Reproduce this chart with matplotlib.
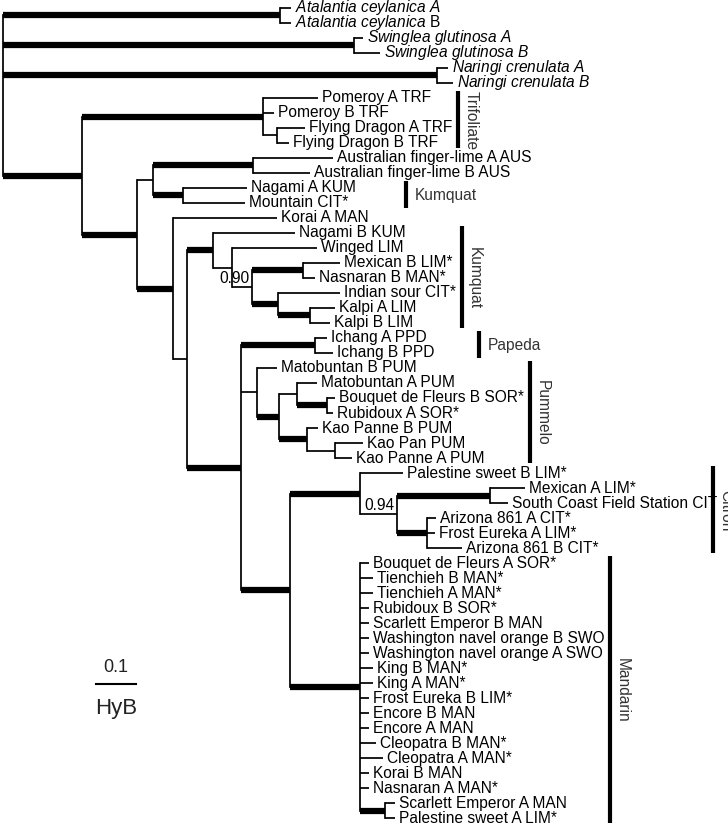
import matplotlib
matplotlib.use('Agg')
import matplotlib.pyplot as plt

plt.rcParams['font.family'] = ['Liberation Sans', 'DejaVu Sans']
plt.rcParams['mathtext.fontset'] = 'custom'
plt.rcParams['mathtext.rm'] = 'Liberation Sans'
plt.rcParams['mathtext.it'] = 'Liberation Sans:italic'

# tree edges: (node, parent, branch length [subst./site], thick = high posterior)
# children are listed top to bottom
outgroups = [
    ('root', None, 0.0, False),
    ('atal', 'root', 0.6925, True),
    ('$\\mathit{Atalantia\\ ceylanica\\ A}$', 'atal', 0.0275, False),
    ('$\\mathit{Atalantia\\ ceylanica}$ B', 'atal', 0.0275, False),
    ('swin', 'root', 0.8775, True),
    ('$\\mathit{Swinglea\\ glutinosa\\ A}$', 'swin', 0.0225, False),
    ('$\\mathit{Swinglea\\ glutinosa\\ B}$', 'swin', 0.065, False),
    ('nari', 'root', 1.085, True),
    ('$\\mathit{Naringi\\ crenulata\\ A}$', 'nari', 0.0275, False),
    ('$\\mathit{Naringi\\ crenulata\\ B}$', 'nari', 0.04, False),
    ('citrus', 'root', 0.1975, True),
]

upper_clades = [
    ('trif', 'citrus', 0.4525, True),
    ('Pomeroy A TRF', 'trif', 0.1375, False),
    ('Pomeroy B TRF', 'trif', 0.0275, False),
    ('fd', 'trif', 0.035, False),
    ('Flying Dragon A TRF', 'fd', 0.07, False),
    ('Flying Dragon B TRF', 'fd', 0.03, False),
    ('b', 'citrus', 0.1375, True),
    ('c', 'b', 0.04, False),
    ('aus', 'c', 0.25, True),
    ('Australian finger-lime A AUS', 'aus', 0.2, False),
    ('Australian finger-lime B AUS', 'aus', 0.1425, False),
    ('kum', 'c', 0.075, True),
    ('Nagami A KUM', 'kum', 0.16, False),
    ('Mountain CIT*', 'kum', 0.155, False),
    ('d', 'b', 0.09, True),
    ('Korai A MAN', 'd', 0.26, False),
    ('e', 'd', 0.035, False),
]

kumquat_clade = [
    ('k2', 'e', 0.065, True),
    ('Nagami B KUM', 'k2', 0.205, False),
    ('k2b', 'k2', 0.0475, False),
    ('Winged LIM', 'k2b', 0.2125, False),
    ('k2c', 'k2b', 0.05, False),
    ('mexnas', 'k2c', 0.1275, True),
    ('Mexican B LIM*', 'mexnas', 0.0925, False),
    ('Nasnaran B MAN*', 'mexnas', 0.03, False),
    ('ik', 'k2c', 0.065, True),
    ('Indian sour CIT*', 'ik', 0.155, False),
    ('kalpi', 'ik', 0.08, True),
    ('Kalpi A LIM', 'kalpi', 0.0625, False),
    ('Kalpi B LIM', 'kalpi', 0.05, False),
]

papeda_pummelo = [
    ('g', 'e', 0.135, True),
    ('pap', 'g', 0.185, True),
    ('Ichang A PPD', 'pap', 0.03, False),
    ('Ichang B PPD', 'pap', 0.045, False),
    ('pum', 'g', 0.04, False),
    ('Matobuntan B PUM', 'pum', 0.05, False),
    ('q', 'pum', 0.055, True),
    ('r', 'q', 0.045, False),
    ('Matobuntan A PUM', 'r', 0.05, False),
    ('s', 'r', 0.075, True),
    ('Bouquet de Fleurs B SOR*', 's', 0.02, False),
    ('Rubidoux A SOR*', 's', 0.015, False),
    ('t', 'q', 0.07, True),
    ('Kao Panne B PUM', 't', 0.0275, False),
    ('u', 't', 0.07, False),
    ('Kao Pan PUM', 'u', 0.07, False),
    ('Kao Panne A PUM', 'u', 0.0425, False),
]

citron_clade = [
    ('f', 'g', 0.1225, True),
    ('cit', 'f', 0.175, True),
    ('Palestine sweet B LIM*', 'cit', 0.1075, False),
    ('c94', 'cit', 0.0925, False),
    ('ms', 'c94', 0.2325, True),
    ('Mexican A LIM*', 'ms', 0.0875, False),
    ('South Coast Field Station CIT', 'ms', 0.045, False),
    ('az', 'c94', 0.075, True),
    ('Arizona 861 A CIT*', 'az', 0.0225, False),
    ('Frost Eureka A LIM*', 'az', 0.02, False),
    ('Arizona 861 B CIT*', 'az', 0.0875, False),
]

mandarin_clade = [
    ('man', 'f', 0.175, True),
    ('Bouquet de Fleurs A SOR*', 'man', 0.0225, False),
    ('Tienchieh B MAN*', 'man', 0.0325, False),
    ('Tienchieh A MAN*', 'man', 0.0325, False),
    ('Rubidoux B SOR*', 'man', 0.0225, False),
    ('Scarlett Emperor B MAN', 'man', 0.0225, False),
    ('Washington navel orange B SWO', 'man', 0.0225, False),
    ('Washington navel orange A SWO', 'man', 0.0225, False),
    ('King B MAN*', 'man', 0.0325, False),
    ('King A MAN*', 'man', 0.0325, False),
    ('Frost Eureka B LIM*', 'man', 0.0225, False),
    ('Encore B MAN', 'man', 0.0225, False),
    ('Encore A MAN', 'man', 0.0225, False),
    ('Cleopatra B MAN*', 'man', 0.04, False),
    ('Cleopatra A MAN*', 'man', 0.0575, False),
    ('Korai B MAN', 'man', 0.0225, False),
    ('Nasnaran A MAN*', 'man', 0.0225, False),
    ('sp', 'man', 0.0625, True),
    ('Scarlett Emperor A MAN', 'sp', 0.025, False),
    ('Palestine sweet A LIM*', 'sp', 0.025, False),
]

# posterior probabilities shown on the tree
support_nodes = ['k2c', 'c94']
support_values = ['0.90', '0.94']

# group bars
group_names = ['Trifoliate', 'Kumquat', 'Kumquat', 'Papeda', 'Pummelo', 'Citron', 'Mandarin']
group_first = ['Pomeroy A TRF', 'Nagami A KUM', 'Nagami B KUM', 'Ichang A PPD',
               'Matobuntan B PUM', 'Palestine sweet B LIM*', 'Bouquet de Fleurs A SOR*']
group_last = ['Flying Dragon B TRF', 'Mountain CIT*', 'Kalpi B LIM', 'Ichang B PPD',
              'Kao Panne A PUM', 'Arizona 861 B CIT*', 'Palestine sweet A LIM*']

# layout of the group bars (x in tree units) and label orientation
group_bar_x = [1.1375, 1.0075, 1.1475, 1.19, 1.3175, 1.775, 1.5175]
group_vertical = [True, False, True, False, True, True, True]

edges = outgroups + upper_clades + kumquat_clade + papeda_pummelo + citron_clade + mandarin_clade

parent = {}
blen = {}
thick = {}
children = {}
for name, par, ln, th in edges:
    parent[name] = par
    blen[name] = ln
    thick[name] = th
    if par is not None:
        children.setdefault(par, []).append(name)

# x from cumulative branch lengths, y from leaf order
xpos = {}
ypos = {}
leaves = []


def layout(node, x):
    xpos[node] = x
    if node not in children:
        ypos[node] = len(leaves)
        leaves.append(node)
        return
    for ch in children[node]:
        layout(ch, x + blen[ch])
    kids = children[node]
    ypos[node] = (ypos[kids[0]] + ypos[kids[-1]]) / 2.0


layout('root', 0.0)

fig = plt.figure(figsize=(7.28, 8.26), dpi=100)
ax = fig.add_axes([0, 0, 1, 1])
ax.set_xlim(-0.0075, 1.8125)
ax.set_ylim(54.533, -0.533)
ax.axis('off')

thin_lw = 1.25
thick_lw = 4.5
label_size = 11.2

for name, par, ln, th in edges:
    if par is None:
        continue
    ax.plot([xpos[par], xpos[name]], [ypos[name], ypos[name]], color='black',
            lw=thick_lw if th else thin_lw, solid_capstyle='butt')

for node, kids in children.items():
    ax.plot([xpos[node], xpos[node]], [ypos[kids[0]], ypos[kids[-1]]], color='black',
            lw=thin_lw, solid_capstyle='projecting')

for leaf in leaves:
    ax.text(xpos[leaf] + 0.011, ypos[leaf], leaf, fontsize=label_size, va='center',
            ha='left', color='black')

for node, val in zip(support_nodes, support_values):
    ax.text(xpos[node] - 0.006, ypos[node] - 0.58, val, fontsize=label_size, va='center',
            ha='right', color='black')

for name, first, last, bx, vert in zip(group_names, group_first, group_last,
                                       group_bar_x, group_vertical):
    y0 = ypos[first] - 0.45
    y1 = ypos[last] + 0.35
    ax.plot([bx, bx], [y0, y1], color='black', lw=3, solid_capstyle='butt')
    ymid = (ypos[first] + ypos[last]) / 2.0
    if vert:
        ax.text(bx + 0.013, ymid, name, fontsize=label_size, rotation=270, ha='left',
                va='center', color='#333333')
    else:
        ax.text(bx + 0.022, ymid, name, fontsize=label_size, ha='left', va='center',
                color='#333333')

# scale bar
sb_x = 0.2325
sb_y = 45.07
ax.plot([sb_x, sb_x + 0.1], [sb_y, sb_y], color='black', lw=1.5)
ax.text(sb_x + 0.05, sb_y - 1.1, '0.1', fontsize=13, ha='center', va='center', color='#222222')
ax.text(sb_x + 0.05, sb_y + 1.6, 'HyB', fontsize=16, ha='center', va='center', color='#222222')

fig.savefig('out.png', dpi=100)
